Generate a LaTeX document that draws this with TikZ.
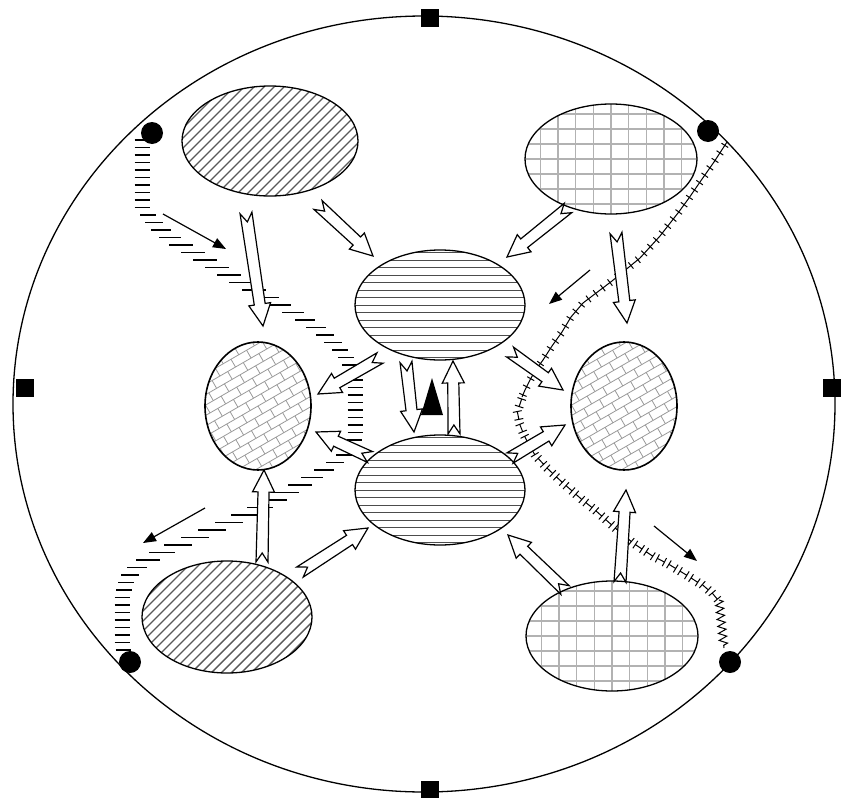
\documentclass[tikz,border=0pt]{standalone}
\usetikzlibrary{calc,decorations.markings,decorations.pathmorphing,arrows.meta}
\newcommand\harrow[2]{%
  \coordinate (ha) at (#1); \coordinate (hb) at (#2);
  \coordinate (hh) at ($(hb)!22pt!(ha)$);
  \draw[hollow] ($(ha)!6pt!90:(hb)$) -- ($(hh)!5.5pt!90:(hb)$) -- ($(hh)!11pt!90:(hb)$) -- (hb)
     -- ($(hh)!11pt!-90:(hb)$) -- ($(hh)!5.5pt!-90:(hb)$) -- ($(ha)!6pt!-90:(hb)$) -- ($(ha)!9pt!(hb)$) -- cycle;}
\begin{document}
\begin{tikzpicture}[x=1pt,y=-1pt,
 outline/.style={line width=1.3pt,draw=black},
 hollow/.style={draw=black,fill=white,line width=1.2pt,line join=miter},
 hatchline/.style={line width=1.4pt,draw=black!65},
 gridline/.style={line width=1.3pt,draw=black!30},
 hline/.style={line width=1pt,draw=black!70},
 brick/.style={line width=0.8pt,draw=black!40},
 blackarrow/.style={line width=1.2pt,-{Triangle[length=13pt,width=10pt]}},
 dashmark/.style={line width=1.7pt,draw=black},
 thinline/.style={line width=1pt,draw=black},
]
\useasboundingbox (0,0) rectangle (841,798);
% outer circle
\coordinate (O) at (424,404);
\draw[outline] (O) ellipse [x radius=411, y radius=388];
\coordinate (sqT) at (430,18);
\coordinate (sqB) at (430,790);
\coordinate (sqL) at (25,388);
\coordinate (sqR) at (832,388);
\foreach \c in {sqT,sqB,sqL,sqR} \fill ($(\c)+(-9,-9)$) rectangle ($(\c)+(9,9)$);
\coordinate (dTL) at (152,133);
\coordinate (dTR) at (708,131);
\coordinate (dBL) at (130,662);
\coordinate (dBR) at (730,662);
\foreach \c in {dTL,dTR,dBL,dBR} \fill (\c) circle [radius=11];

% left hatched curve
\foreach \y in {140,147.5,...,208} \draw[dashmark] (134.5,\y) -- (149.5,\y);
\foreach \x/\y/\h in {148/215/8,154/222.5/9,161/230/10,170/237.5/11,181/245/12,193/252.5/12,
  205/260/12,217/267.5/12,229/275/12,241/282.5/12,254/290/12,267/297.5/12,280/305/11,
  293/312.5/11,305/320/10,316/327.5/10,325/335/9,333/342.5/9,340/350/8,346/357.5/8,
  350/365/8,353/372.5/7.5,355/380/7.5,355/387.5/7.5,355/395/7.5,355/402.5/7.5,355/410/7.5,
  355/417.5/7.5,355/425/7.5,355/432.5/7.5,354/440/7.5,351/447.5/8,344/455/8,335/462.5/9,
  324/470/10,312/477.5/11,300/485/12,287/492.5/12,274/500/13,260/507.5/13,245/515/14,
  229/522.5/14,212/530/14,195/537.5/14,178/545/14,162/552.5/13,148/560/12,137/567.5/10,
  130/575/9,126/582.5/8,124/590/8,122/597.5/7.5,122/605/7.5,122/612.5/7.5,122/620/7.5,
  122/627.5/7.5,122/635/7.5,122/642.5/7.5,123/650/7.5}
  \draw[dashmark] (\x-\h,\y) -- (\x+\h,\y);

% right barbed curve
\draw[thinline, postaction={decorate},
  decoration={markings, mark=between positions 4pt and -2pt step 9pt with {\draw[thinline] (0,-4) -- (0,4);}}]
  (727,142) -- (714,162) -- (700,182) -- (689,198) -- (678,213) -- (660,236) -- (640,258) -- (612,281)
  -- (583,303) -- (571,317) -- (562,332) -- (552,346) -- (543,360) -- (535,371) -- (530,380) -- (525,390) -- (522,397);
\path[decoration={markings, mark=between positions 5pt and -2pt step 13pt with
  {\draw[thinline] (-4,0) -- (4,0) (-4,-4.5) -- (-4,4.5) (4,-4.5) -- (4,4.5);}}, decorate]
  (522,398) -- (519,407) -- (518,415) -- (520,425) -- (524,435) -- (529,445) -- (535,455) -- (548,469)
  -- (563,483) -- (579,497) -- (595,510) -- (614,527) -- (633,543) -- (651,555) -- (670,565) -- (688,576)
  -- (705,587) -- (713,594) -- (718,600);
\draw[thinline, decorate, decoration={zigzag, amplitude=4pt, segment length=7pt}] (719,600) -- (724,648);

% ellipses
\coordinate (ETL) at (270,141);
\coordinate (ETR) at (611,159);
\coordinate (ECT) at (440,305);
\coordinate (ECB) at (440,490);
\coordinate (EL) at (258,406);
\coordinate (ER) at (624,406);
\coordinate (EBL) at (227,617);
\coordinate (EBR) at (612,636);

% diagonal hatch
\foreach \e/\rx/\ry in {ETL/88/55,EBL/85/56}{
  \begin{scope}
    \clip (\e) ellipse [x radius=\rx, y radius=\ry];
    \foreach \i in {-170,-160,...,170} \draw[hatchline] ($(\e)+(\i-70,70)$) -- ($(\e)+(\i+70,-70)$);
  \end{scope}
  \draw[outline] (\e) ellipse [x radius=\rx, y radius=\ry];
}
% grid
\foreach \e/\rx/\ry in {ETR/86/55,EBR/86/55}{
  \begin{scope}
    \clip (\e) ellipse [x radius=\rx, y radius=\ry];
    \foreach \i in {-88.5,-70.8,...,90} \draw[gridline] ($(\e)+(\i,-60)$) -- ($(\e)+(\i,60)$);
    \foreach \j in {-60,-45,...,60} \draw[gridline] ($(\e)+(-90,\j)$) -- ($(\e)+(90,\j)$);
  \end{scope}
  \draw[outline] (\e) ellipse [x radius=\rx, y radius=\ry];
}
% horizontal lines
\foreach \e in {ECT,ECB}{
  \begin{scope}
    \clip (\e) ellipse [x radius=85, y radius=55];
    \foreach \j in {-52.5,-45,...,53} \draw[hline] ($(\e)+(-90,\j)$) -- ($(\e)+(90,\j)$);
  \end{scope}
  \draw[outline] (\e) ellipse [x radius=85, y radius=55];
}
% bricks
\foreach \e in {EL,ER}{
  \begin{scope}
    \clip (\e) ellipse [x radius=53, y radius=64];
    \begin{scope}[shift={(\e)}, rotate=30]
      \foreach \k in {-10,...,10}{
        \draw[brick] (-100,\k*9) -- (100,\k*9);
        \foreach \j in {-6,...,6} \draw[brick] ({\j*18+9*mod(\k+20,2)},\k*9) -- ++(0,9);
      }
    \end{scope}
  \end{scope}
  \draw[line width=1.6pt] (\e) ellipse [x radius=53, y radius=64];
}

% hollow arrows
\coordinate (a1t) at (246,213);  \coordinate (a1h) at (263,326);
\coordinate (a2t) at (318,205);  \coordinate (a2h) at (373,256);
\coordinate (a3t) at (568,208);  \coordinate (a3h) at (507,257);
\coordinate (a4t) at (616,233);  \coordinate (a4h) at (627,323);
\coordinate (a5t) at (380,358);  \coordinate (a5h) at (318,394);
\coordinate (a6t) at (510,352);  \coordinate (a6h) at (563,390);
\coordinate (a7t) at (406,362);  \coordinate (a7h) at (414,432);
\coordinate (a8t) at (454,434);  \coordinate (a8h) at (453,361);
\coordinate (a9t) at (370,457);  \coordinate (a9h) at (316,432);
\coordinate (a10t) at (510,458); \coordinate (a10h) at (565,425);
\coordinate (a11t) at (262,562); \coordinate (a11h) at (264,470);
\coordinate (a12t) at (300,572); \coordinate (a12h) at (368,528);
\coordinate (a13t) at (565,590); \coordinate (a13h) at (508,535);
\coordinate (a14t) at (620,582); \coordinate (a14h) at (626,490);
\foreach \n in {1,...,14} \harrow{a\n t}{a\n h};

% black triangle
\coordinate (tA) at (421,415); \coordinate (tB) at (432,378); \coordinate (tC) at (443,415);
\fill (tA) -- (tB) -- (tC) -- cycle;

% small black arrows
\coordinate (b1s) at (163,214); \coordinate (b1e) at (226,249);
\coordinate (b2s) at (590,270); \coordinate (b2e) at (549,304);
\coordinate (b3s) at (205,508); \coordinate (b3e) at (143,543);
\coordinate (b4s) at (654,526); \coordinate (b4e) at (697,561);
\foreach \n in {1,...,4} \draw[blackarrow] (b\n s) -- (b\n e);
\end{tikzpicture}
\end{document}
